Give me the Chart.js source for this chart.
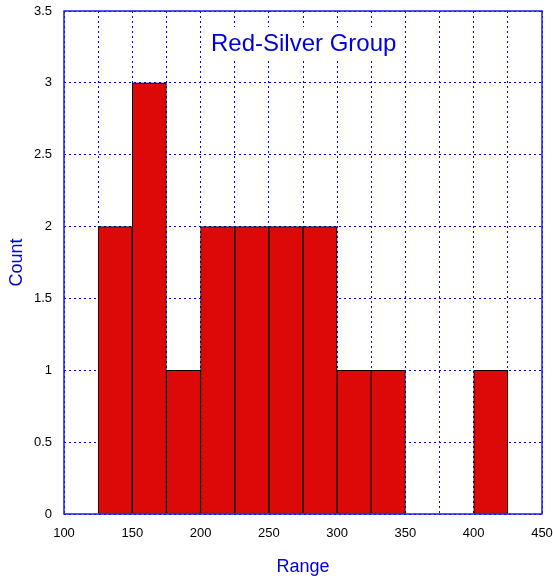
<!DOCTYPE html>
<html>
<head>
<meta charset="utf-8">
<script src="https://cdn.jsdelivr.net/npm/chart.js@4/dist/chart.umd.min.js"></script>
<style>
    html, body { margin: 0; padding: 0; background: #fff; }
    #wrap { width: 553px; height: 580px; }
</style>
</head>
<body>
<div id="wrap"><canvas id="histo" width="553" height="580"></canvas></div>
<script>
// Données de l'histogramme (début de chaque classe, largeur 25)
const binStarts = [125, 150, 175, 200, 225, 250, 275, 300, 325, 350, 375, 400];
const counts = [2, 3, 1, 2, 2, 2, 2, 1, 1, 0, 0, 1];
const BIN_WIDTH = 25;

// Axes
const xTicks = [100, 150, 200, 250, 300, 350, 400, 450];
const yTicks = [0, 0.5, 1, 1.5, 2, 2.5, 3, 3.5];

const TITLE = 'Red-Silver Group';
const BLUE = '#0000dd';
const FONT = '"Liberation Sans", Arial, Helvetica, sans-serif';

// Titre dans la zone du graphique, avec fond blanc
const titrePlugin = {
    id: 'titreInterne',
    afterDraw(chart) {
        const { ctx, scales } = chart;
        const cx = scales.x.getPixelForValue(275.5);
        const cy = scales.y.getPixelForValue(3.27);
        ctx.save();
        ctx.font = '24px ' + FONT;
        const w = ctx.measureText(TITLE).width;
        ctx.fillStyle = '#fff';
        ctx.fillRect(cx - w / 2 - 5, cy - 17, w + 10, 33);
        ctx.fillStyle = BLUE;
        ctx.textAlign = 'center';
        ctx.textBaseline = 'middle';
        ctx.fillText(TITLE, cx, cy);
        ctx.restore();
    }
};

// Cadre bleu autour de la zone de tracé
const cadrePlugin = {
    id: 'cadre',
    afterDatasetsDraw(chart) {
        const { ctx, chartArea: a } = chart;
        ctx.save();
        ctx.strokeStyle = '#1a1ae6';
        ctx.lineWidth = 1.5;
        ctx.strokeRect(a.left, a.top, a.right - a.left, a.bottom - a.top);
        ctx.restore();
    }
};

const ctx = document.getElementById('histo').getContext('2d');

new Chart(ctx, {
    type: 'bar',
    data: {
        datasets: [{
            data: binStarts.map((s, i) => ({ x: s + BIN_WIDTH / 2, y: counts[i] })),
            backgroundColor: '#dd0808',
            borderColor: '#000',
            borderWidth: 1,
            borderSkipped: false,
            barPercentage: 1,
            categoryPercentage: 1
        }]
    },
    options: {
        responsive: false,
        animation: false,
        layout: { padding: { top: 11, right: 11, left: 0, bottom: 0 } },
        plugins: {
            legend: { display: false },
            tooltip: { enabled: false }
        },
        scales: {
            x: {
                type: 'linear',
                offset: false,
                min: xTicks[0],
                max: xTicks[xTicks.length - 1],
                grid: { offset: false, color: '#0000ff', lineWidth: 1, drawTicks: false },
                border: { display: false, dash: [2, 3] },
                ticks: {
                    stepSize: BIN_WIDTH,
                    autoSkip: false,
                    maxRotation: 0,
                    padding: 12,
                    color: '#000',
                    font: { family: FONT, size: 13 },
                    callback: v => xTicks.includes(v) ? String(v) : ''
                },
                title: {
                    display: true,
                    text: 'Range',
                    color: BLUE,
                    font: { family: FONT, size: 18 },
                    padding: { top: 0, bottom: 2 }
                },
                afterFit: s => {
                    s.height = 66;
                    s.paddingLeft = 0;
                    s.paddingRight = 0;
                }
            },
            y: {
                min: yTicks[0],
                max: yTicks[yTicks.length - 1],
                grid: { color: '#0000ff', lineWidth: 1, drawTicks: false },
                border: { display: false, dash: [2, 3] },
                ticks: {
                    stepSize: 0.5,
                    padding: 12,
                    color: '#000',
                    font: { family: FONT, size: 13 },
                    callback: v => yTicks.includes(v) ? String(v) : ''
                },
                title: {
                    display: true,
                    text: 'Count',
                    color: BLUE,
                    font: { family: FONT, size: 18 },
                    padding: { top: 6, bottom: 0 }
                },
                afterFit: s => {
                    s.width = 64;
                    s.paddingTop = 0;
                    s.paddingBottom = 0;
                }
            }
        }
    },
    plugins: [cadrePlugin, titrePlugin]
});
</script>
</body>
</html>
